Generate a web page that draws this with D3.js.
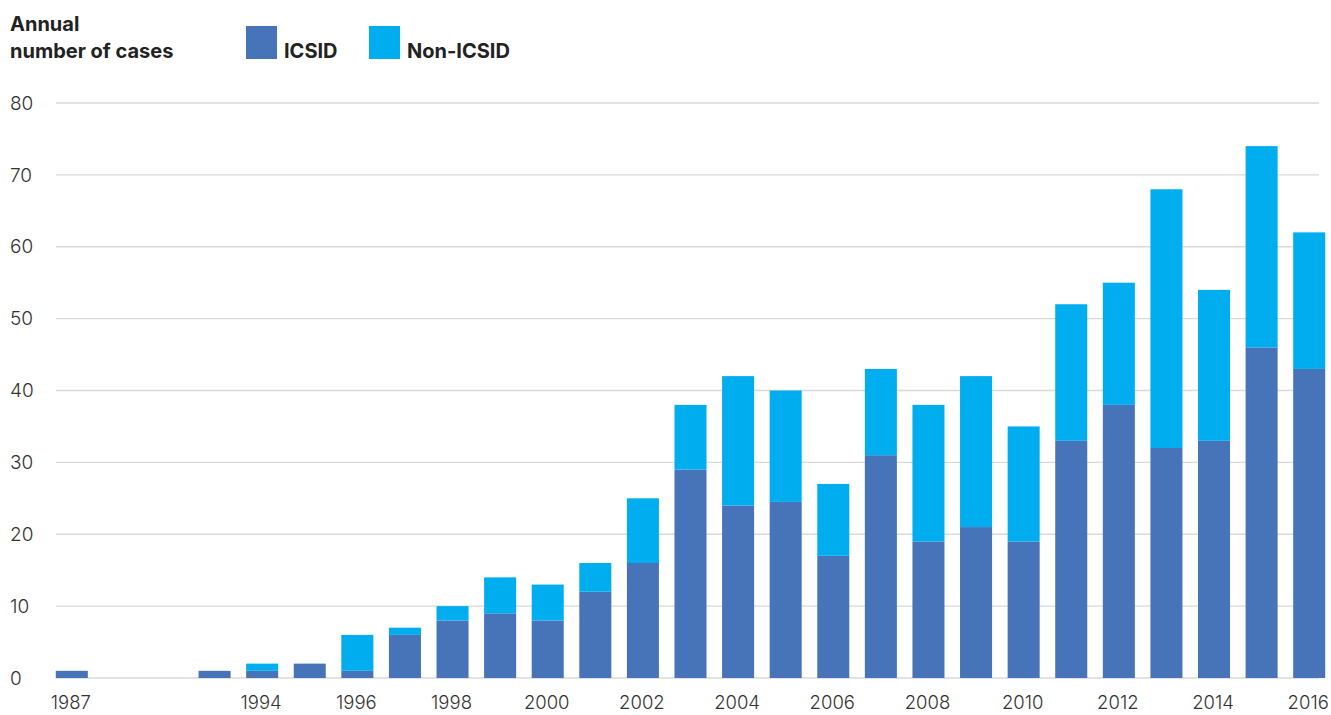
<!DOCTYPE html>
<html>
<head>
<meta charset="utf-8">
<script src="https://cdn.jsdelivr.net/npm/d3@7"></script>
<style>
  body { margin: 0; background: #fff; }
  #container { width: 1331px; height: 715px; }
  text { font-family: "Inter", "Lato", sans-serif; }
</style>
</head>
<body>
<div id="container"></div>
<script>
// years on the x axis, two empty slots between 1987 and 1993
let years = ["1987", "gap1", "gap2", "1993", "1994", "1995", "1996", "1997", "1998", "1999",
  "2000", "2001", "2002", "2003", "2004", "2005", "2006", "2007", "2008", "2009",
  "2010", "2011", "2012", "2013", "2014", "2015", "2016"];
let icsid = [1, 0, 0, 1, 1, 2, 1, 6, 8, 9,
  8, 12, 16, 29, 24, 24.5, 17, 31, 19, 21,
  19, 33, 38, 32, 33, 46, 43];
let nonIcsid = [0, 0, 0, 0, 1, 0, 5, 1, 2, 5,
  5, 4, 9, 9, 18, 15.5, 10, 12, 19, 21,
  16, 19, 17, 36, 21, 28, 19];
let tickYears = ["1987", "1994", "1996", "1998", "2000", "2002", "2004", "2006",
  "2008", "2010", "2012", "2014", "2016"];
let yTicks = [0, 10, 20, 30, 40, 50, 60, 70, 80];
let seriesNames = ["ICSID", "Non-ICSID"];
let colors = ["#4774b8", "#00aeef"];

let width = 1331, height = 715;
let svg = d3.select("#container").append("svg")
  .attr("width", width)
  .attr("height", height);

let x = d3.scaleBand()
  .domain(years)
  .range([48, 1333])
  .paddingInner(0.327)
  .paddingOuter(0.1635);

let y = d3.scaleLinear().domain([0, 80]).range([678, 103]);

// gridlines
svg.append("g")
  .selectAll("line")
  .data(yTicks)
  .join("line")
  .attr("x1", 56)
  .attr("x2", 1319)
  .attr("y1", d => y(d))
  .attr("y2", d => y(d))
  .attr("stroke", "#d9d9d9")
  .attr("stroke-width", 1.3);

// y labels
svg.append("g")
  .selectAll("text")
  .data(yTicks)
  .join("text")
  .attr("x", 10)
  .attr("y", d => y(d))
  .attr("dy", "0.35em")
  .attr("font-size", 19)
  .attr("font-weight", 300)
  .attr("fill", "#333")
  .text(d => d);

// stacked bars
let rows = years.map((yr, i) => ({ year: yr, ICSID: icsid[i], "Non-ICSID": nonIcsid[i] }));
let stack = d3.stack().keys(seriesNames)(rows);

svg.append("g")
  .selectAll("g")
  .data(stack)
  .join("g")
  .attr("fill", (d, i) => colors[i])
  .selectAll("rect")
  .data(d => d.filter(p => p[1] - p[0] > 0))
  .join("rect")
  .attr("x", d => x(d.data.year))
  .attr("width", x.bandwidth())
  .attr("y", d => y(d[1]))
  .attr("height", d => y(d[0]) - y(d[1]));

// x labels
svg.append("g")
  .selectAll("text")
  .data(tickYears)
  .join("text")
  .attr("x", d => x(d) + x.bandwidth() / 2 - 1)
  .attr("y", 709)
  .attr("text-anchor", "middle")
  .attr("font-size", 18.5)
  .attr("font-weight", 300)
  .attr("fill", "#333")
  .text(d => d);

// title
let title = svg.append("text")
  .attr("x", 10)
  .attr("font-size", 20)
  .attr("font-weight", 700)
  .attr("fill", "#222");
title.append("tspan").attr("x", 10).attr("y", 31).text("Annual");
title.append("tspan").attr("x", 10).attr("y", 58).text("number of cases");

// legend
let legendX = [246, 369];
let legend = svg.append("g")
  .selectAll("g")
  .data(seriesNames)
  .join("g")
  .attr("transform", (d, i) => `translate(${legendX[i]},26)`);

legend.append("rect")
  .attr("width", 31)
  .attr("height", 33)
  .attr("fill", (d, i) => colors[i]);

legend.append("text")
  .attr("x", 38)
  .attr("y", 32)
  .attr("font-size", 20)
  .attr("font-weight", 700)
  .attr("fill", "#222")
  .text(d => d);
</script>
</body>
</html>
